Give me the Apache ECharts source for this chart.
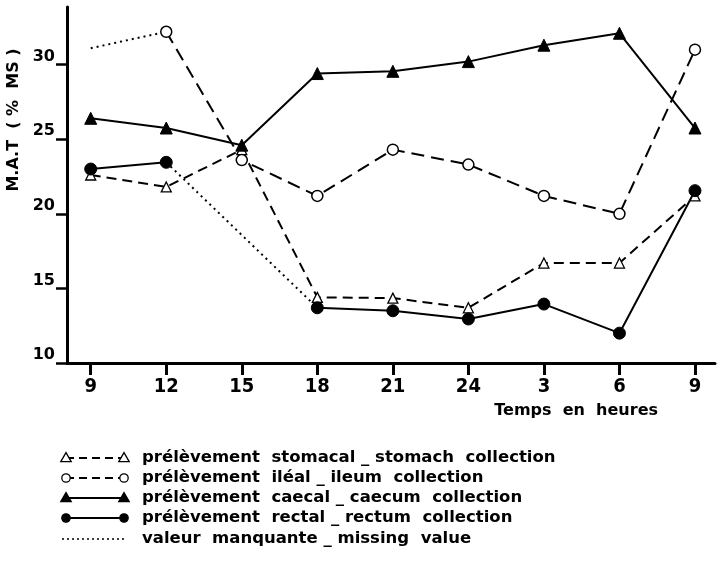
<!DOCTYPE html>
<html>
<head>
<meta charset="utf-8">
<script src="https://cdn.jsdelivr.net/npm/echarts@6/dist/echarts.min.js"></script>
<style>html,body{margin:0;padding:0;background:#fff}#c{width:719px;height:563px}</style>
</head>
<body>
<div id="c"></div>
<script>
var timeLabels = ['9','12','15','18','21','24','3','6','9'];
var yTicks = [10,15,20,25,30];
var stomach = [22.6, 21.8, 24.3, 14.4, 14.35, 13.7, 16.7, 16.7, 21.2];
var ileum   = [null, 32.2, 23.6, 21.2, 24.3, 23.3, 21.2, 20.0, 31.0];
var caecum  = [26.4, 25.75, 24.6, 29.4, 29.55, 30.2, 31.3, 32.1, 25.75];
var rectum  = [23.0, 23.45, null, 13.7, 13.5, 12.95, 13.95, 12.0, 21.55];
var missingIleum  = [[0, 31.1], [1, 32.2]];
var missingRectum = [[1, 23.45], [3, 13.7]];
var legendLabels = [
  'prélèvement  stomacal _ stomach  collection',
  'prélèvement  iléal _ ileum  collection',
  'prélèvement  caecal _ caecum  collection',
  'prélèvement  rectal _ rectum  collection',
  'valeur  manquante _ missing  value'
];

function pairs(arr){ return arr.map(function(v,i){ return [i, v]; }); }

var FONT = 'DejaVu Sans';
var chart = echarts.init(document.getElementById('c'));

var legendRows = [458, 478, 498, 518, 539];
var g = [];
function tri(cx, cy, s, filled){
  return {type:'polygon', shape:{points:[[cx, cy - s*0.6],[cx - s*0.58, cy + s*0.4],[cx + s*0.58, cy + s*0.4]]},
    style:{fill: filled ? '#000' : '#fff', stroke:'#000', lineWidth:1.3}, z:10};
}
function circ(cx, cy, r, filled){
  return {type:'circle', shape:{cx:cx, cy:cy, r:r}, style:{fill: filled ? '#000' : '#fff', stroke:'#000', lineWidth:1.3}, z:10};
}
var legendStyles = [
  {dash:[8,5], sym:'tri', filled:false},
  {dash:[8,5], sym:'circ', filled:false},
  {dash:null, sym:'tri', filled:true},
  {dash:null, sym:'circ', filled:true},
  {dash:[2,3], sym:null, filled:false}
];
legendRows.forEach(function(y, i){
  var st = legendStyles[i];
  var x1 = st.sym ? 66 : 62, x2 = st.sym ? 124 : 127;
  g.push({type:'line', shape:{x1:x1, y1:y, x2:x2, y2:y}, style:{stroke:'#000', lineWidth: st.sym ? 2 : 1.6, lineDash: st.dash || null}, z:9});
  if (st.sym === 'tri') { g.push(tri(x1, y, 9, st.filled)); g.push(tri(x2, y, 9, st.filled)); }
  if (st.sym === 'circ') { g.push(circ(x1, y, 4.2, st.filled)); g.push(circ(x2, y, 4.2, st.filled)); }
  g.push({type:'text', x:142, y:y, style:{text: legendLabels[i], font:'bold 16.5px "' + FONT + '"', fill:'#000', verticalAlign:'middle', align:'left'}});
});
g.push({type:'text', x:14, y:120, rotation: Math.PI/2, style:{text:'M.A.T  ( %  MS )', font:'bold 16px "' + FONT + '"', fill:'#000', align:'center', verticalAlign:'middle'}});

var lineBase = {type:'line', animation:false, connectNulls:false, z:3};
chart.setOption({
  animation:false,
  grid:{left:67, right:4, top:7, bottom:200},
  xAxis:{
    type:'value', min:-0.314, max:8.265,
    axisLine:{show:true, onZero:false, lineStyle:{color:'#000', width:3}},
    axisTick:{show:true, customValues:[0,1,2,3,4,5,6,7,8], length:12, lineStyle:{color:'#000', width:3}},
    axisLabel:{show:true, customValues:[0,1,2,3,4,5,6,7,8], formatter:function(v){ return timeLabels[Math.round(v)]; },
      color:'#000', fontFamily:'DejaVu Sans Condensed', fontWeight:'bold', fontSize:20, margin:14},
    splitLine:{show:false},
    name:'Temps  en  heures', nameLocation:'end', nameGap:-57,
    nameTextStyle:{color:'#000', fontFamily:FONT, fontWeight:'bold', fontSize:16, align:'right', verticalAlign:'top', padding:[40,0,0,0]}
  },
  yAxis:{
    type:'value', min:10, max:33.86,
    axisLine:{show:true, onZero:false, lineStyle:{color:'#000', width:3}},
    axisTick:{show:true, customValues:yTicks, length:11, lineStyle:{color:'#000', width:2.5}},
    axisLabel:{show:true, customValues:yTicks, color:'#000', fontFamily:FONT, fontWeight:'bold', fontSize:16, margin:12, verticalAlign:'bottom'},
    splitLine:{show:false}
  },
  graphic:g,
  series:[
    Object.assign({}, lineBase, {name:'missingIleum', data:missingIleum, symbol:'none', lineStyle:{color:'#000', width:2, type:[2,4]}}),
    Object.assign({}, lineBase, {name:'missingRectum', data:missingRectum, symbol:'none', lineStyle:{color:'#000', width:2, type:[2,4]}}),
    Object.assign({}, lineBase, {name:'stomach', data:pairs(stomach), symbol:'triangle', symbolSize:10,
      itemStyle:{color:'#fff', borderColor:'#000', borderWidth:1.3}, lineStyle:{color:'#000', width:2, type:[10,6]}}),
    Object.assign({}, lineBase, {name:'ileum', data:pairs(ileum), symbol:'circle', symbolSize:11,
      itemStyle:{color:'#fff', borderColor:'#000', borderWidth:1.5}, lineStyle:{color:'#000', width:2, type:[13,7]}}),
    Object.assign({}, lineBase, {name:'caecum', data:pairs(caecum), symbol:'triangle', symbolSize:12,
      itemStyle:{color:'#000', borderColor:'#000', borderWidth:1}, lineStyle:{color:'#000', width:2}}),
    Object.assign({}, lineBase, {name:'rectum', data:pairs(rectum), symbol:'circle', symbolSize:12,
      itemStyle:{color:'#000', borderColor:'#000', borderWidth:1}, lineStyle:{color:'#000', width:2}})
  ]
});
</script>
</body>
</html>
